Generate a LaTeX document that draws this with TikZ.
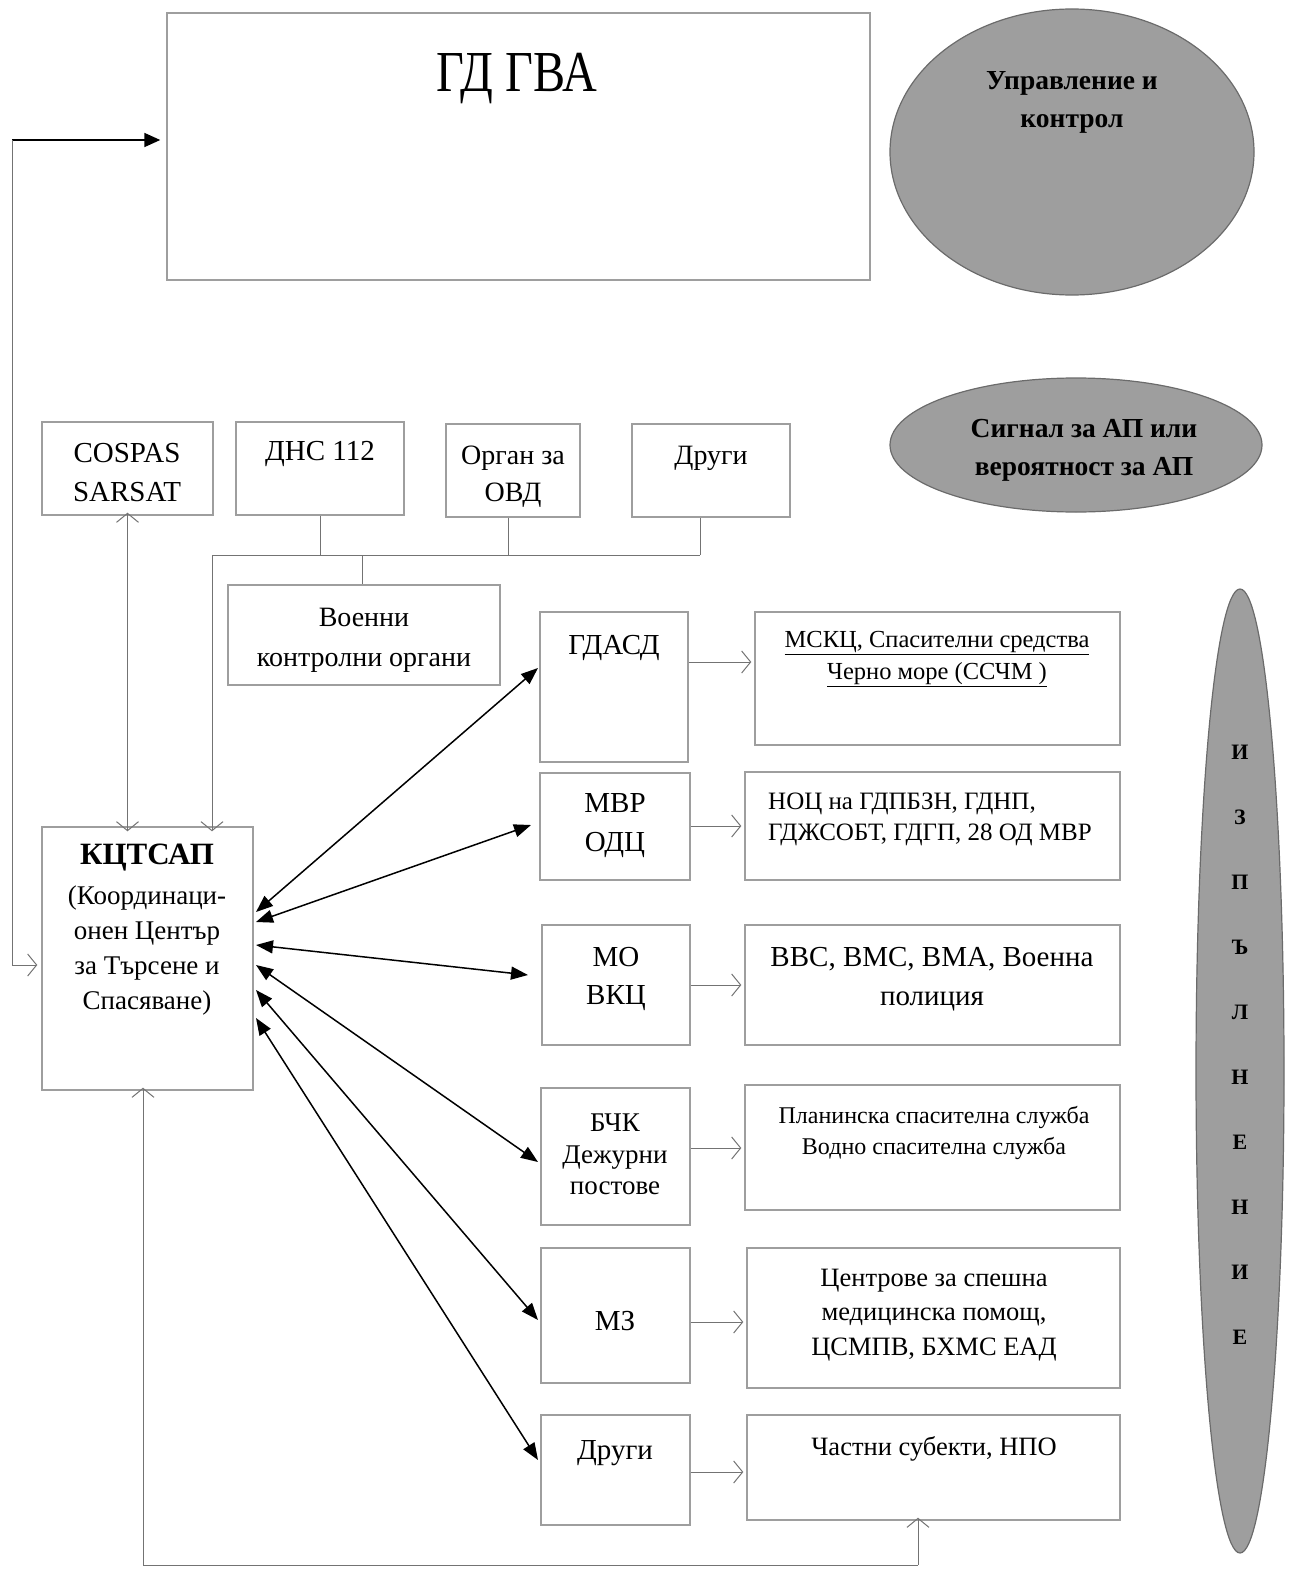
\documentclass[tikz,border=0pt]{standalone}
\usepackage{fontspec}
\setmainfont{Liberation Serif}
\usetikzlibrary{shapes.geometric,arrows.meta}
\begin{document}
\begin{tikzpicture}[x=1pt,y=-1pt,
  box/.style={draw=black!38, line width=1.4pt, inner sep=0pt, rectangle},
  oval/.style={ellipse, draw=black!58, fill=black!38, line width=1.2pt, inner sep=0pt},
  txt/.style={align=center, inner sep=0pt},
  fA/.style={font=\fontsize{29}{39}\selectfont},
  blk/.style={{Triangle[length=17pt,width=13pt]}-{Triangle[length=17pt,width=13pt]}, line width=1.5pt},
  gline/.style={draw=black!55, line width=1pt},
  garr/.style={gline, -{Straight Barb[length=9pt,width=22pt,line width=1pt]}},
  garr2/.style={gline, {Straight Barb[length=9pt,width=22pt,line width=1pt]}-{Straight Barb[length=9pt,width=22pt,line width=1pt]}},
  barr/.style={line width=1.8pt, -{Triangle[length=16pt,width=14pt]}}
]
\useasboundingbox (0,0) rectangle (1297,1573);

% ---------- boxes ----------
\node[box, minimum width=703pt, minimum height=267pt] (gd) at (518.5,146.5) {};
\node[box, minimum width=171pt, minimum height=93pt] (cos) at (127.5,468.5) {};
\node[box, minimum width=168pt, minimum height=93pt] (dns) at (320,468.5) {};
\node[box, minimum width=134pt, minimum height=93pt] (org) at (513,470.5) {};
\node[box, minimum width=158pt, minimum height=93pt] (dr1) at (711,470.5) {};
\node[box, minimum width=272pt, minimum height=100pt] (voe) at (364,635) {};
\node[box, minimum width=211pt, minimum height=263pt] (kc) at (147.5,958.5) {};

\node[box, minimum width=148pt, minimum height=150pt] (m1) at (614,687) {};
\node[box, minimum width=150pt, minimum height=107pt] (m2) at (615,826.5) {};
\node[box, minimum width=148pt, minimum height=120pt] (m3) at (616,985) {};
\node[box, minimum width=149pt, minimum height=137pt] (m4) at (615.5,1156.5) {};
\node[box, minimum width=149pt, minimum height=135pt] (m5) at (615.5,1315.5) {};
\node[box, minimum width=149pt, minimum height=110pt] (m6) at (615.5,1470) {};

\node[box, minimum width=365pt, minimum height=133pt] (r1) at (937.5,678.5) {};
\node[box, minimum width=375pt, minimum height=108pt] (r2) at (932.5,826) {};
\node[box, minimum width=375pt, minimum height=120pt] (r3) at (932.5,985) {};
\node[box, minimum width=375pt, minimum height=125pt] (r4) at (932.5,1147.5) {};
\node[box, minimum width=373pt, minimum height=140pt] (r5) at (933.5,1318) {};
\node[box, minimum width=373pt, minimum height=105pt] (r6) at (933.5,1467.5) {};

% ---------- ellipses ----------
\node[oval, minimum width=364pt, minimum height=286pt] (e1) at (1072,152) {};
\node[oval, minimum width=372pt, minimum height=134pt] (e2) at (1076,445) {};
\node[oval, minimum width=88pt, minimum height=964pt] (e3) at (1240,1071) {};

% ---------- texts ----------
\node[txt, font=\fontsize{58}{60}\selectfont] (tgd) at (517,79) {\scalebox{0.83}[1]{ГД ГВА}};
\node[txt, fA] (tcos) at (127,473) {COSPAS\\SARSAT};
\node[txt, fA] (tdns) at (320,454) {ДНС 112};
\node[txt, font=\fontsize{28}{37}\selectfont] (torg) at (513,476.5) {Орган за\\ОВД};
\node[txt, font=\fontsize{28}{37}\selectfont] (tdr1) at (711,458) {Други};
\node[txt, font=\fontsize{28}{40}\selectfont] (tvoe) at (364,640) {Военни\\контролни органи};
\node[txt, anchor=north, font=\fontsize{27}{35}\selectfont] (tkc) at (147,844)
  {{\fontsize{31}{35}\selectfont\textbf{КЦТСАП}}\\[5pt](Координаци-\\онен Център\\за Търсене и\\Спасяване)};

\node[txt, fA] (tm1) at (614,648) {ГДАСД};
\node[txt, font=\fontsize{29}{39}\selectfont] (tm2) at (615,825.5) {МВР\\ОДЦ};
\node[txt, font=\fontsize{29}{38}\selectfont] (tm3) at (616,979) {МО\\ВКЦ};
\node[txt, font=\fontsize{27}{31.5}\selectfont] (tm4) at (615,1154.5) {БЧК\\Дежурни\\постове};
\node[txt, fA] (tm5) at (615,1321) {МЗ};
\node[txt, fA] (tm6) at (615,1453) {Други};

\node[txt, font=\fontsize{24.5}{32}\selectfont] (tr1) at (937,659) {\underline{МСКЦ, Спасителни средства}\\\underline{Черно море (ССЧМ )}};
\node[txt, align=left, anchor=west, font=\fontsize{25}{31}\selectfont] (tr2) at (768,819) {НОЦ на ГДПБЗН, ГДНП,\\ГДЖСОБТ, ГДГП, 28 ОД МВР};
\node[txt, font=\fontsize{29}{39}\selectfont] (tr3) at (932,979.5) {ВВС, ВМС, ВМА, Военна\\полиция};
\node[txt, font=\fontsize{24}{31}\selectfont] (tr4) at (934,1132.5) {Планинска спасителна служба\\Водно спасителна служба};
\node[txt, font=\fontsize{26.5}{34.5}\selectfont] (tr5) at (934,1315) {Центрове за спешна\\медицинска помощ,\\ЦСМПВ, БХМС ЕАД};
\node[txt, font=\fontsize{26.5}{30}\selectfont] (tr6) at (934,1449) {Частни субекти, НПО};

\node[txt, font=\fontsize{27.5}{38}\bfseries\selectfont] (te1) at (1072,102) {Управление и\\контрол};
\node[txt, font=\fontsize{27.5}{38}\bfseries\selectfont] (te2) at (1084,450) {Сигнал за АП или\\вероятност за АП};
\node[txt, anchor=north, font=\fontsize{22}{65}\bfseries\selectfont] (te3) at (1240,745)
  {И\\З\\П\\Ъ\\Л\\Н\\Е\\Н\\И\\Е};

% ---------- collector lines at the top ----------
\coordinate (jy) at (212,555);
\coordinate (jr) at (700,555);
\coordinate (jv) at (362,555);
\draw[gline] (dns.south) -- (dns.south |- jy);
\draw[gline] ([xshift=-5pt]org.south) -- ([xshift=-5pt]org.south |- jy);
\draw[gline] ([xshift=-11pt]dr1.south) -- (jr);
\draw[gline] (jy) -- (jr);
\draw[gline] (jv) -- (voe.north -| jv);
\draw[garr] (jy) -- ([yshift=-5pt]kc.north -| jy);
\draw[garr2] ([yshift=3pt]cos.south) -- ([yshift=-5pt]kc.north -| cos.south);

% ---------- left loop ----------
\coordinate (lc) at (12,140);
\draw[barr] (lc) -- ([xshift=-6pt]gd.west |- lc);
\draw[garr] (lc) -- (12,965) -- ([xshift=-4pt]kc.west |- 0,965);

% ---------- bottom loop ----------
\coordinate (b1) at (143,1565);
\coordinate (b2) at (918,1565);
\draw[gline] (b1) -- (b2);
\draw[garr] (b1) -- ([yshift=3pt]kc.south -| b1);
\draw[garr] (b2) -- ([yshift=3pt]r6.south -| b2);

% ---------- middle to right ----------
\draw[garr] (m1.east |- 0,662) -- ([xshift=-3pt]r1.west |- 0,662);
\draw[garr] (m2.east |- 0,826) -- ([xshift=-3pt]r2.west |- 0,826);
\draw[garr] (m3.east |- 0,985) -- ([xshift=-3pt]r3.west |- 0,985);
\draw[garr] (m4.east |- 0,1148) -- ([xshift=-3pt]r4.west |- 0,1148);
\draw[garr] (m5.east |- 0,1322) -- ([xshift=-3pt]r5.west |- 0,1322);
\draw[garr] (m6.east |- 0,1472) -- ([xshift=-3pt]r6.west |- 0,1472);

% ---------- black double arrows ----------
\coordinate (k1) at (256,912);  \coordinate (a1) at (538,668);
\coordinate (k2) at (256,922);  \coordinate (a2) at (531,825);
\coordinate (k3) at (256,945);  \coordinate (a3) at (528,975);
\coordinate (k4) at (256,965);  \coordinate (a4) at (538,1162);
\coordinate (k5) at (256,990);  \coordinate (a5) at (538,1320);
\coordinate (k6) at (256,1018); \coordinate (a6) at (538,1460);
\draw[blk] (k1) -- (a1);
\draw[blk] (k2) -- (a2);
\draw[blk] (k3) -- (a3);
\draw[blk] (k4) -- (a4);
\draw[blk] (k5) -- (a5);
\draw[blk] (k6) -- (a6);
\end{tikzpicture}
\end{document}
